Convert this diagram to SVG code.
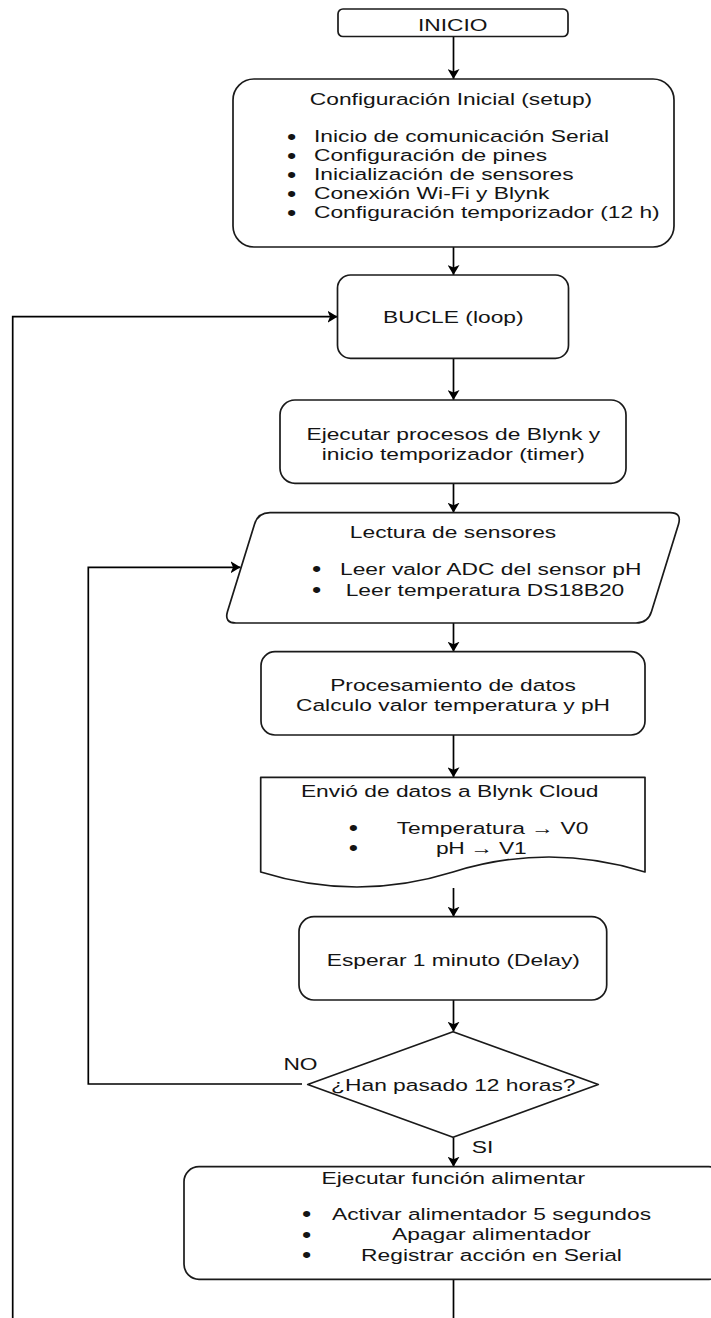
<svg xmlns="http://www.w3.org/2000/svg" width="711" height="1318" viewBox="0 0 711 1318">
  <style>
    .bg { fill: #ffffff; }
    .shape { fill: #ffffff; stroke: #1a1a1a; stroke-width: 1.7; stroke-linejoin: round; }
    .conn { fill: none; stroke: #000000; stroke-width: 1.7; }
    .t { font-family: "Liberation Sans", Arial, Helvetica, sans-serif; font-size: 17px; fill: #141414; }
    .b { font-family: "Liberation Sans", Arial, Helvetica, sans-serif; font-size: 22px; fill: #141414; text-anchor: middle; }
    .m { text-anchor: middle; }
    .s { text-anchor: start; }
  </style>
  <defs>
    <marker id="arrow" markerUnits="userSpaceOnUse" markerWidth="12" markerHeight="12" refX="10" refY="6" orient="auto">
      <path d="M0,0 L10,6 L0,12 L2.5,6 Z" fill="#000000"/>
    </marker>
  </defs>
  <rect class="bg" x="0" y="0" width="711" height="1318"/>

  <g id="connectors">
    <path class="conn" d="M453.5,36.5 V79" marker-end="url(#arrow)"/>
    <path class="conn" d="M453.5,247 V275" marker-end="url(#arrow)"/>
    <path class="conn" d="M453.5,358.3 V400" marker-end="url(#arrow)"/>
    <path class="conn" d="M453.5,483.3 V512.7" marker-end="url(#arrow)"/>
    <path class="conn" d="M453.5,623 V651.7" marker-end="url(#arrow)"/>
    <path class="conn" d="M453.5,735 V777.3" marker-end="url(#arrow)"/>
    <path class="conn" d="M453.5,888 V916.7" marker-end="url(#arrow)"/>
    <path class="conn" d="M453.5,1000 V1031.7" marker-end="url(#arrow)"/>
    <path class="conn" d="M453.5,1137.3 V1166.7" marker-end="url(#arrow)"/>
    <path class="conn" d="M302,1084 H88.3 V567.3 H240.5" marker-end="url(#arrow)"/>
    <path class="conn" d="M453.5,1279.3 V1335 H12.7 V316.7 H337.5" marker-end="url(#arrow)"/>
    <text class="t m" transform="matrix(1.341 0 0 1 300.5 0)" x="0" y="1070">NO</text>
    <text class="t s" transform="matrix(1.341 0 0 1 471.7 0)" x="0" y="1153.3">SI</text>
  </g>

  <g id="n-inicio">
    <rect class="shape" x="338" y="9" width="230" height="27.5" rx="5"/>
    <text class="t m" transform="matrix(1.341 0 0 1 452.7 0)" x="0" y="31">INICIO</text>
  </g>

  <g id="n-setup">
    <rect class="shape" x="233" y="79" width="441" height="168" rx="21"/>
    <text class="t m" transform="matrix(1.341 0 0 1 451 0)" x="0" y="105">Configuración Inicial (setup)</text>
    <text class="b" transform="matrix(1.2 0 0 1 291.7 0)" x="0" y="144">•</text>
    <text class="b" transform="matrix(1.2 0 0 1 291.7 0)" x="0" y="162.9">•</text>
    <text class="b" transform="matrix(1.2 0 0 1 291.7 0)" x="0" y="181.8">•</text>
    <text class="b" transform="matrix(1.2 0 0 1 291.7 0)" x="0" y="200.7">•</text>
    <text class="b" transform="matrix(1.2 0 0 1 291.7 0)" x="0" y="219.6">•</text>
    <text class="t s" transform="matrix(1.341 0 0 1 314 0)" x="0" y="142.5">Inicio de comunicación Serial</text>
    <text class="t s" transform="matrix(1.341 0 0 1 314 0)" x="0" y="161.4">Configuración de pines</text>
    <text class="t s" transform="matrix(1.341 0 0 1 314 0)" x="0" y="180.3">Inicialización de sensores</text>
    <text class="t s" transform="matrix(1.341 0 0 1 314 0)" x="0" y="199.2">Conexión Wi-Fi y Blynk</text>
    <text class="t s" transform="matrix(1.341 0 0 1 314 0)" x="0" y="218.1">Configuración temporizador (12 h)</text>
  </g>

  <g id="n-bucle">
    <rect class="shape" x="337.5" y="275" width="231" height="83.3" rx="13"/>
    <text class="t m" transform="matrix(1.341 0 0 1 453.3 0)" x="0" y="323.3">BUCLE (loop)</text>
  </g>

  <g id="n-blynk">
    <rect class="shape" x="280" y="400" width="346" height="83.3" rx="15"/>
    <text class="t m" transform="matrix(1.341 0 0 1 453.3 0)" x="0" y="440">Ejecutar procesos de Blynk y</text>
    <text class="t m" transform="matrix(1.341 0 0 1 453.3 0)" x="0" y="460.5">inicio temporizador (timer)</text>
  </g>

  <g id="n-lectura">
    <path class="shape" d="M270,512.7 H670 Q682,512.7 678.5,524.2 L651.5,611.5 Q648,623 636,623 H236 Q224,623 227.5,611.5 L254.5,524.2 Q258,512.7 270,512.7 Z"/>
    <text class="t m" transform="matrix(1.341 0 0 1 453 0)" x="0" y="538.3">Lectura de sensores</text>
    <text class="b" transform="matrix(1.2 0 0 1 316.7 0)" x="0" y="576.5">•</text>
    <text class="b" transform="matrix(1.2 0 0 1 316.7 0)" x="0" y="597.5">•</text>
    <text class="t s" transform="matrix(1.341 0 0 1 340 0)" x="0" y="575">Leer valor ADC del sensor pH</text>
    <text class="t s" transform="matrix(1.341 0 0 1 345.7 0)" x="0" y="596">Leer temperatura DS18B20</text>
  </g>

  <g id="n-procesamiento">
    <rect class="shape" x="261" y="651.7" width="384" height="83.3" rx="14"/>
    <text class="t m" transform="matrix(1.341 0 0 1 453 0)" x="0" y="690.7">Procesamiento de datos</text>
    <text class="t m" transform="matrix(1.341 0 0 1 453 0)" x="0" y="710.7">Calculo valor temperatura y pH</text>
  </g>

  <g id="n-envio">
    <path class="shape" d="M260.7,777.3 H645 V872 Q549,842 453,872 Q357,902 260.7,872 Z"/>
    <text class="t m" transform="matrix(1.341 0 0 1 449.7 0)" x="0" y="796.7">Envió de datos a Blynk Cloud</text>
    <text class="b" transform="matrix(1.2 0 0 1 353.3 0)" x="0" y="835.5">•</text>
    <text class="b" transform="matrix(1.2 0 0 1 353.3 0)" x="0" y="855.5">•</text>
    <text class="t s" transform="matrix(1.341 0 0 1 396.7 0)" x="0" y="834" textLength="143" lengthAdjust="spacing">Temperatura → V0</text>
    <text class="t s" transform="matrix(1.341 0 0 1 436 0)" x="0" y="854" textLength="67.6" lengthAdjust="spacing">pH → V1</text>
  </g>

  <g id="n-esperar">
    <rect class="shape" x="299" y="916.7" width="307.7" height="83.3" rx="15"/>
    <text class="t m" transform="matrix(1.341 0 0 1 453.3 0)" x="0" y="966">Esperar 1 minuto (Delay)</text>
  </g>

  <g id="n-decision">
    <path class="shape" d="M453,1031.7 L598.3,1084.5 L453,1137.3 L307.7,1084.5 Z"/>
    <text class="t m" transform="matrix(1.341 0 0 1 453.3 0)" x="0" y="1091">¿Han pasado 12 horas?</text>
  </g>

  <g id="n-alimentar">
    <rect class="shape" x="184" y="1166.7" width="540" height="112.6" rx="15"/>
    <text class="t m" transform="matrix(1.341 0 0 1 453.3 0)" x="0" y="1184.3">Ejecutar función alimentar</text>
    <text class="b" transform="matrix(1.2 0 0 1 306.7 0)" x="0" y="1221.5">•</text>
    <text class="b" transform="matrix(1.2 0 0 1 306.7 0)" x="0" y="1242">•</text>
    <text class="b" transform="matrix(1.2 0 0 1 306.7 0)" x="0" y="1262.2">•</text>
    <text class="t m" transform="matrix(1.341 0 0 1 491.5 0)" x="0" y="1220">Activar alimentador 5 segundos</text>
    <text class="t m" transform="matrix(1.341 0 0 1 491.5 0)" x="0" y="1240.5">Apagar alimentador</text>
    <text class="t m" transform="matrix(1.341 0 0 1 491.5 0)" x="0" y="1260.7">Registrar acción en Serial</text>
  </g>
</svg>
